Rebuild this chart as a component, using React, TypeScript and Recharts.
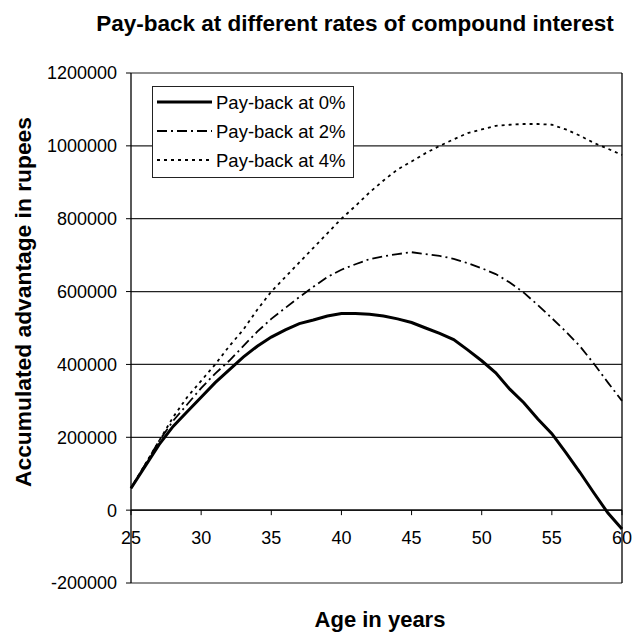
import React from 'react';
import { LineChart, Line, XAxis, YAxis, CartesianGrid, ReferenceLine, ReferenceDot } from 'recharts';

const ages = [25, 26, 27, 28, 29, 30, 31, 32, 33, 34, 35, 36, 37, 38, 39, 40, 41, 42, 43, 44, 45, 46, 47, 48, 49, 50, 51, 52, 53, 54, 55, 56, 57, 58, 59, 60];

const payback0 = [60000, 120000, 180000, 230000, 270000, 310000, 350000, 385000, 420000, 450000, 475000, 495000, 512000, 522000, 533000, 540000, 540000, 538000, 533000, 525000, 515000, 500000, 485000, 468000, 440000, 410000, 377000, 332000, 295000, 250000, 210000, 158000, 104000, 47000, -8000, -52000];

const payback2 = [60000, 125000, 190000, 245000, 290000, 335000, 375000, 410000, 450000, 490000, 525000, 555000, 585000, 613000, 640000, 660000, 675000, 689000, 697000, 703000, 708000, 703000, 698000, 690000, 678000, 664000, 648000, 625000, 597000, 563000, 527000, 490000, 450000, 402000, 350000, 300000];

const payback4 = [60000, 125000, 190000, 255000, 310000, 355000, 400000, 450000, 495000, 550000, 600000, 640000, 680000, 720000, 760000, 800000, 835000, 872000, 905000, 935000, 957000, 980000, 1000000, 1018000, 1035000, 1045000, 1055000, 1058000, 1060000, 1060000, 1058000, 1045000, 1028000, 1008000, 992000, 975000];

const yTicks = [-200000, 0, 200000, 400000, 600000, 800000, 1000000, 1200000];
const xTicks = [25, 30, 35, 40, 45, 50, 55, 60];

const titleText = 'Pay-back at different rates of compound interest';
const xLabelText = 'Age in years';
const yLabelText = 'Accumulated advantage in rupees';

const series = [
  { key: 'p0', name: 'Pay-back at 0%', width: 3, dash: undefined as string | undefined },
  { key: 'p2', name: 'Pay-back at 2%', width: 1.8, dash: '10 4 2 4' },
  { key: 'p4', name: 'Pay-back at 4%', width: 1.8, dash: '3 4' },
];

const data = ages.map((age, i) => ({ age, p0: payback0[i], p2: payback2[i], p4: payback4[i] }));

const FONT = '"Liberation Sans", Arial, Helvetica, sans-serif';

function XTickAtZero(props: any) {
  const { cx, cy, label } = props;
  return (
    <g>
      <line x1={cx} y1={cy} x2={cx} y2={cy + 5} stroke="#000" strokeWidth={1} />
      <text x={cx} y={cy + 33.5} textAnchor="middle" fontSize={18} fontFamily={FONT} fill="#000">
        {label}
      </text>
    </g>
  );
}

export default function App() {
  return (
    <div style={{ position: 'absolute', left: 0, top: 0, width: 633, height: 632, background: '#fff' }}>
      <LineChart
        width={633}
        height={632}
        data={data}
        margin={{ top: 73, right: 11, bottom: 49, left: 0 }}
      >
        <CartesianGrid vertical={false} stroke="#222" strokeWidth={1.2} />
        <XAxis dataKey="age" type="number" domain={[25, 60]} ticks={xTicks} hide />
        <YAxis
          type="number"
          domain={[-200000, 1200000]}
          ticks={yTicks}
          interval={0}
          width={131}
          axisLine={{ stroke: '#000', strokeWidth: 1.3 }}
          tickLine={{ stroke: '#000' }}
          tickSize={5}
          tickMargin={9}
          tick={{ fontSize: 18, fill: '#000', fontFamily: FONT }}
          tickFormatter={(v: number) => String(v)}
        />
        <ReferenceLine x={60} stroke="#000" strokeWidth={1.3} />
        <ReferenceLine y={0} stroke="#000" strokeWidth={1.4} />
        {series.map((s) => (
          <Line
            key={s.key}
            type="linear"
            dataKey={s.key}
            name={s.name}
            stroke="#000"
            strokeWidth={s.width}
            strokeDasharray={s.dash}
            dot={false}
            activeDot={false}
            isAnimationActive={false}
          />
        ))}
        {xTicks.map((t) => (
          <ReferenceDot
            key={'xt' + t}
            x={t}
            y={0}
            ifOverflow="visible"
            shape={(p: any) => <XTickAtZero {...p} label={String(t)} />}
          />
        ))}
      </LineChart>
      <svg
        width={633}
        height={632}
        style={{ position: 'absolute', left: 0, top: 0, pointerEvents: 'none' }}
      >
        <text x={355} y={31} textAnchor="middle" fontSize={22.5} fontWeight="bold" fontFamily={FONT} fill="#000">
          {titleText}
        </text>
        <text x={380} y={627} textAnchor="middle" fontSize={22} fontWeight="bold" fontFamily={FONT} fill="#000">
          {xLabelText}
        </text>
        <text
          transform="translate(31, 302) rotate(-90)"
          textAnchor="middle"
          fontSize={22.8}
          fontWeight="bold"
          fontFamily={FONT}
          fill="#000"
        >
          {yLabelText}
        </text>
        <rect x={152.5} y={86.5} width={201} height={91} fill="#fff" stroke="#222" strokeWidth={1} />
        {series.map((s, i) => {
          const rowY = 102 + i * 29;
          return (
            <g key={'lg' + s.key}>
              <line x1={157} y1={rowY} x2={212} y2={rowY} stroke="#000" strokeWidth={s.width} strokeDasharray={s.dash} />
              <text x={216} y={rowY + 6.5} fontSize={18.5} fontFamily={FONT} fill="#000">
                {s.name}
              </text>
            </g>
          );
        })}
      </svg>
    </div>
  );
}
